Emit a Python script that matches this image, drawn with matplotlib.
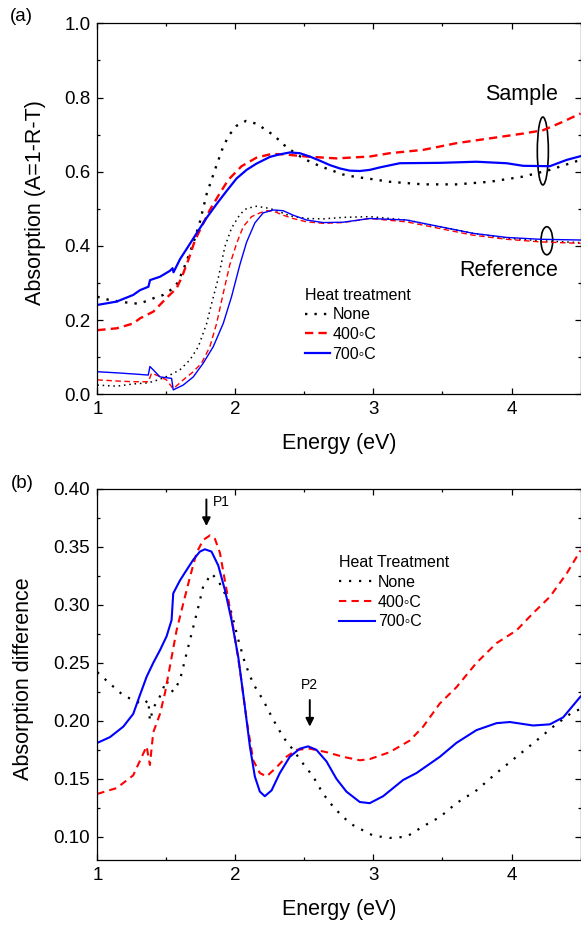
import numpy as np
import matplotlib
matplotlib.use('Agg')
from matplotlib import pyplot as plt
from matplotlib.patches import Ellipse
from matplotlib.ticker import MultipleLocator, FormatStrFormatter

plt.rcParams['font.family'] = ['Liberation Sans', 'DejaVu Sans']

# ---------------- (a) absorption, sample films ----------------
e_s_none = [1.0, 1.09, 1.26, 1.31, 1.406, 1.478, 1.55, 1.58, 1.622, 1.695, 1.743, 1.792, 1.864,
            1.912, 1.955, 2.009, 2.076, 2.148, 2.213, 2.286, 2.346, 2.418, 2.491, 2.563, 2.636,
            2.703, 2.776, 2.841, 2.913, 2.973, 3.118, 3.36, 3.601, 3.843, 4.085, 4.278, 4.5]
a_s_none = [0.263, 0.254, 0.245, 0.245, 0.259, 0.268, 0.286, 0.30, 0.335, 0.407, 0.465, 0.54, 0.618,
            0.668, 0.699, 0.724, 0.737, 0.730, 0.715, 0.696, 0.674, 0.654, 0.636, 0.623, 0.612,
            0.603, 0.593, 0.588, 0.584, 0.581, 0.573, 0.566, 0.566, 0.573, 0.587, 0.605, 0.632]

e_s_400 = [1.0, 1.14, 1.26, 1.31, 1.406, 1.502, 1.574, 1.611, 1.659, 1.707, 1.767, 1.815, 1.876,
           1.948, 2.045, 2.153, 2.262, 2.346, 2.515, 2.732, 2.973, 3.118, 3.36, 3.601, 3.843,
           4.085, 4.229, 4.374, 4.5]
a_s_400 = [0.173, 0.178, 0.191, 0.205, 0.223, 0.26, 0.286, 0.315, 0.362, 0.415, 0.461, 0.497, 0.535,
           0.578, 0.615, 0.638, 0.648, 0.647, 0.641, 0.636, 0.641, 0.65, 0.659, 0.677, 0.69,
           0.703, 0.712, 0.735, 0.757]

e_s_700 = [1.0, 1.14, 1.26, 1.31, 1.37, 1.382, 1.454, 1.526, 1.545, 1.552, 1.60, 1.647, 1.719,
           1.792, 1.864, 1.936, 2.009, 2.081, 2.153, 2.25, 2.31, 2.394, 2.467, 2.539, 2.611,
           2.684, 2.756, 2.828, 2.901, 2.973, 3.05, 3.191, 3.481, 3.746, 3.964, 4.085, 4.278,
           4.4, 4.5]
a_s_700 = [0.241, 0.25, 0.268, 0.281, 0.29, 0.308, 0.317, 0.333, 0.34, 0.329, 0.365, 0.392, 0.434,
           0.476, 0.513, 0.548, 0.582, 0.605, 0.622, 0.640, 0.646, 0.652, 0.650, 0.641, 0.630,
           0.618, 0.609, 0.603, 0.602, 0.605, 0.612, 0.623, 0.624, 0.627, 0.623, 0.616, 0.615,
           0.632, 0.642]

# ---------------- (a) absorption, reference films ----------------
e_r_none = [1.0, 1.14, 1.26, 1.37, 1.45, 1.526, 1.598, 1.671, 1.731, 1.792, 1.828, 1.876, 1.924,
            1.972, 2.033, 2.081, 2.153, 2.25, 2.322, 2.394, 2.515, 2.636, 2.78, 2.973, 3.239,
            3.481, 3.722, 3.964, 4.205, 4.5]
a_r_none = [0.025, 0.022, 0.028, 0.031, 0.04, 0.052, 0.066, 0.093, 0.128, 0.191, 0.245, 0.313,
            0.398, 0.448, 0.485, 0.501, 0.507, 0.501, 0.492, 0.481, 0.474, 0.473, 0.477, 0.479,
            0.47, 0.452, 0.434, 0.421, 0.414, 0.409]

e_r_400 = [1.0, 1.14, 1.26, 1.37, 1.393, 1.453, 1.5, 1.55, 1.622, 1.695, 1.755, 1.815, 1.864,
           1.912, 1.96, 2.009, 2.057, 2.117, 2.177, 2.226, 2.274, 2.346, 2.418, 2.515, 2.636,
           2.78, 2.973, 3.239, 3.481, 3.722, 3.964, 4.205, 4.5]
a_r_400 = [0.039, 0.036, 0.034, 0.034, 0.057, 0.048, 0.039, 0.015, 0.039, 0.061, 0.084, 0.128,
           0.191, 0.272, 0.35, 0.407, 0.452, 0.479, 0.489, 0.495, 0.494, 0.483, 0.474, 0.465,
           0.461, 0.463, 0.474, 0.465, 0.447, 0.429, 0.418, 0.411, 0.407]

e_r_700 = [1.0, 1.14, 1.26, 1.369, 1.381, 1.405, 1.454, 1.538, 1.55, 1.622, 1.695, 1.767, 1.839,
           1.912, 1.972, 2.033, 2.081, 2.141, 2.201, 2.274, 2.346, 2.418, 2.515, 2.636, 2.78,
           2.973, 3.239, 3.481, 3.722, 3.964, 4.205, 4.5]
a_r_700 = [0.061, 0.058, 0.055, 0.052, 0.075, 0.066, 0.047, 0.043, 0.012, 0.025, 0.047, 0.084,
           0.128, 0.191, 0.263, 0.35, 0.41, 0.462, 0.489, 0.497, 0.495, 0.483, 0.47, 0.463,
           0.464, 0.474, 0.47, 0.452, 0.434, 0.423, 0.418, 0.416]

# ---------------- (b) absorption difference ----------------
e_d_none = [1.0, 1.092, 1.188, 1.26, 1.333, 1.369, 1.381, 1.405, 1.453, 1.501, 1.525, 1.55, 1.598,
            1.646, 1.695, 1.731, 1.767, 1.827, 1.876, 1.936, 1.972, 2.021, 2.069, 2.129, 2.201,
            2.274, 2.346, 2.418, 2.491, 2.563, 2.636, 2.708, 2.78, 2.853, 2.998, 3.118, 3.239,
            3.36, 3.481, 3.601, 3.746, 3.891, 4.036, 4.181, 4.302, 4.447, 4.5]
d_none = [0.242, 0.232, 0.222, 0.218, 0.214, 0.218, 0.2, 0.211, 0.221, 0.235, 0.228, 0.225, 0.235,
          0.258, 0.281, 0.298, 0.316, 0.327, 0.321, 0.307, 0.293, 0.27, 0.25, 0.232, 0.218,
          0.201, 0.186, 0.175, 0.163, 0.152, 0.137, 0.126, 0.117, 0.11, 0.101, 0.099, 0.1,
          0.109, 0.117, 0.129, 0.14, 0.155, 0.169, 0.183, 0.195, 0.208, 0.21]

e_d_400 = [1.0, 1.14, 1.26, 1.357, 1.381, 1.405, 1.454, 1.49, 1.526, 1.574, 1.622, 1.671, 1.719,
           1.767, 1.816, 1.852, 1.888, 1.936, 1.984, 2.033, 2.081, 2.129, 2.177, 2.226, 2.298,
           2.37, 2.443, 2.539, 2.66, 2.78, 2.901, 2.973, 3.118, 3.263, 3.36, 3.481, 3.601,
           3.746, 3.891, 4.036, 4.157, 4.278, 4.399, 4.5]
d_400 = [0.137, 0.142, 0.153, 0.178, 0.162, 0.19, 0.206, 0.224, 0.247, 0.278, 0.301, 0.324, 0.345,
         0.356, 0.36, 0.357, 0.345, 0.313, 0.281, 0.244, 0.201, 0.166, 0.155, 0.152, 0.16,
         0.169, 0.175, 0.176, 0.173, 0.169, 0.166, 0.167, 0.173, 0.183, 0.195, 0.215, 0.229,
         0.25, 0.267, 0.278, 0.293, 0.307, 0.327, 0.347]

e_d_700 = [1.0, 1.092, 1.188, 1.26, 1.308, 1.357, 1.405, 1.454, 1.502, 1.538, 1.55, 1.598, 1.646,
           1.695, 1.743, 1.779, 1.827, 1.876, 1.924, 1.972, 2.021, 2.069, 2.105, 2.141, 2.177,
           2.213, 2.262, 2.322, 2.394, 2.467, 2.527, 2.587, 2.66, 2.732, 2.804, 2.901, 2.973,
           3.07, 3.215, 3.312, 3.481, 3.601, 3.746, 3.891, 3.988, 4.157, 4.278, 4.374, 4.5]
d_700 = [0.181, 0.186, 0.195, 0.206, 0.222, 0.238, 0.25, 0.261, 0.273, 0.287, 0.31, 0.321, 0.33,
         0.339, 0.346, 0.348, 0.346, 0.334, 0.313, 0.287, 0.255, 0.212, 0.178, 0.152, 0.139,
         0.135, 0.14, 0.155, 0.169, 0.176, 0.178, 0.175, 0.165, 0.15, 0.139, 0.13, 0.129,
         0.135, 0.149, 0.155, 0.169, 0.181, 0.192, 0.198, 0.199, 0.196, 0.197, 0.203, 0.221]

labels = ['None', '400\u25e6C', '700\u25e6C']

RED = '#ff0000'
BLUE = '#0000ff'


def style_axes(ax):
    ax.tick_params(which='both', direction='in', top=True, right=True, width=0.9, labelsize=13.5)
    ax.tick_params(which='major', length=4.5, pad=5)
    ax.tick_params(which='minor', length=2.5)
    for s in ax.spines.values():
        s.set_linewidth(0.9)
    ax.set_xlim(1, 4.5)
    ax.xaxis.set_major_locator(MultipleLocator(1))
    ax.xaxis.set_minor_locator(MultipleLocator(0.5))
    ax.xaxis.set_major_formatter(FormatStrFormatter('%d'))
    ax.set_xlabel('Energy (eV)', fontsize=15.5)
    ax.xaxis.set_label_coords(0.5, -0.105)


fig = plt.figure(figsize=(5.81, 9.27), dpi=100)
ax_a = fig.add_axes([0.1675, 0.5746, 0.8317, 0.4002])
ax_b = fig.add_axes([0.1675, 0.0723, 0.8317, 0.4002])

# (a) ------------------------------------------------------------
l1, = ax_a.plot(e_s_none, a_s_none, color='k', lw=1.7, linestyle=(0, (1, 3)))
l2, = ax_a.plot(e_s_400, a_s_400, color=RED, lw=1.7, linestyle=(0, (3.5, 2.2)))
l3, = ax_a.plot(e_s_700, a_s_700, color=BLUE, lw=1.6)
ax_a.plot(e_r_none, a_r_none, color='k', lw=1.1, linestyle=(0, (1, 2.5)))
ax_a.plot(e_r_400, a_r_400, color=RED, lw=1.0, linestyle=(0, (4, 2.5)))
ax_a.plot(e_r_700, a_r_700, color=BLUE, lw=1.0)

style_axes(ax_a)
ax_a.set_ylim(0, 1.0)
ax_a.yaxis.set_major_locator(MultipleLocator(0.2))
ax_a.yaxis.set_minor_locator(MultipleLocator(0.1))
ax_a.yaxis.set_major_formatter(FormatStrFormatter('%.1f'))
ax_a.set_ylabel('Absorption (A=1-R-T)', fontsize=15.5)
ax_a.yaxis.set_label_coords(-0.106, 0.517)

ax_a.add_patch(Ellipse((4.227, 0.656), 0.08, 0.183, fill=False, ec='k', lw=1.2))
ax_a.add_patch(Ellipse((4.256, 0.414), 0.085, 0.0755, fill=False, ec='k', lw=1.2))
ax_a.text(4.07, 0.808, 'Sample', fontsize=15.5, ha='center', va='center')
ax_a.text(3.98, 0.333, 'Reference', fontsize=15.5, ha='center', va='center')

ax_a.legend([l1, l2, l3], labels, title='Heat treatment', loc='upper left',
            bbox_to_anchor=(0.43, 0.288), frameon=False, fontsize=11.5, title_fontsize=11.5,
            handlelength=1.55, handletextpad=0.15, labelspacing=0.3, borderpad=0,
            borderaxespad=0, alignment='left')

# (b) ------------------------------------------------------------
m1, = ax_b.plot(e_d_none, d_none, color='k', lw=1.6, linestyle=(0, (1, 3.5)))
m2, = ax_b.plot(e_d_400, d_400, color=RED, lw=1.5, linestyle=(0, (3.5, 2.5)))
m3, = ax_b.plot(e_d_700, d_700, color=BLUE, lw=1.5)

style_axes(ax_b)
ax_b.set_ylim(0.08, 0.40)
ax_b.yaxis.set_major_locator(MultipleLocator(0.05))
ax_b.yaxis.set_minor_locator(MultipleLocator(0.025))
ax_b.yaxis.set_major_formatter(FormatStrFormatter('%.2f'))
ax_b.set_ylabel('Absorption difference', fontsize=15.5)
ax_b.yaxis.set_label_coords(-0.131, 0.49)

ax_b.legend([m1, m2, m3], labels, title='Heat Treatment', loc='upper left',
            bbox_to_anchor=(0.50, 0.822), frameon=False, fontsize=11.5, title_fontsize=11.5,
            handlelength=2.25, handletextpad=0.2, labelspacing=0.3, borderpad=0,
            borderaxespad=0, alignment='left')

arrow = dict(arrowstyle='-|>', color='k', lw=1.4, mutation_scale=12, shrinkA=0, shrinkB=0)
ax_b.annotate('', xy=(1.79, 0.368), xytext=(1.79, 0.391), arrowprops=arrow)
ax_b.text(1.838, 0.389, 'P1', fontsize=10, ha='left', va='center')
ax_b.annotate('', xy=(2.539, 0.195), xytext=(2.539, 0.218), arrowprops=arrow)
ax_b.text(2.539, 0.231, 'P2', fontsize=10, ha='center', va='center')

fig.text(21.7 / 581, 1 - 16.7 / 927, '(a)', fontsize=13.5, ha='center', va='center')
fig.text(22 / 581, 1 - 483 / 927, '(b)', fontsize=13.5, ha='center', va='center')

plt.savefig('out.png', dpi=100)
